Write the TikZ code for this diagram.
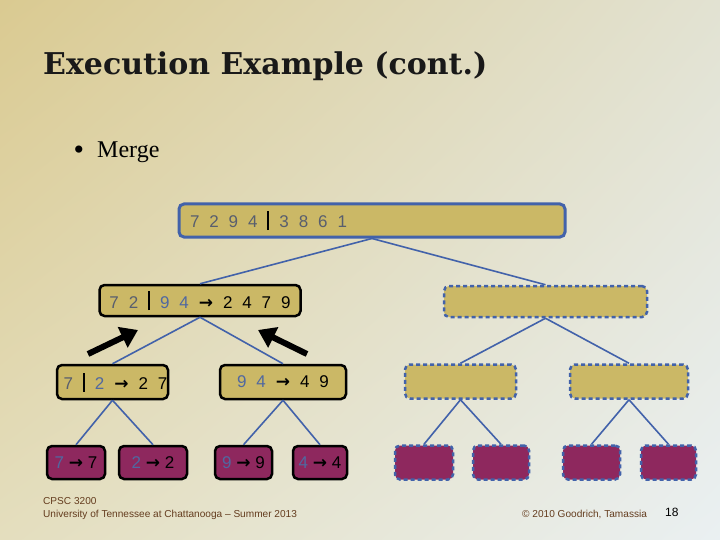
\documentclass[tikz,border=0pt]{standalone}
\usepackage{fontspec}
\setmainfont{Liberation Serif}
\setsansfont{Liberation Sans}
\newfontfamily\digits[WordSpace=2.1]{Liberation Sans}
\newfontfamily\arrfont{DejaVu Sans}
\newfontfamily\headfont{DejaVu Serif}
\usetikzlibrary{arrows.meta,shadings}

\definecolor{bgtl}{RGB}{218,202,145}
\definecolor{bgtr}{RGB}{226,226,210}
\definecolor{bgbl}{RGB}{228,222,190}
\definecolor{bgbr}{RGB}{234,240,242}
\definecolor{tanbox}{RGB}{203,184,102}
\definecolor{plum}{RGB}{142,40,94}
\definecolor{treeblue}{RGB}{66,98,170}
\definecolor{slate}{RGB}{88,94,110}
\definecolor{steel}{RGB}{80,104,160}
\definecolor{footbrown}{RGB}{100,60,30}

\newcommand{\vsep}{{\color{black}\rule[-2pt]{2pt}{19pt}}}
\newcommand{\arr}{{\arrfont\bfseries\color{black}→}}

\begin{document}
\begin{tikzpicture}[
  x=1pt, y=-1pt,
  box/.style={rounded corners=5pt, line width=2.5pt, inner xsep=0pt, inner ysep=0pt,
    font=\digits\fontsize{17}{20}\selectfont},
  done/.style={box, draw=black, fill=tanbox},
  todo/.style={box, draw=treeblue, dash pattern=on 4pt off 3pt, fill=tanbox},
  leafdone/.style={box, draw=black, fill=plum, font=\sffamily\fontsize{17}{20}\selectfont},
  leaftodo/.style={box, draw=treeblue, dash pattern=on 4pt off 3pt, fill=plum},
  link/.style={draw=treeblue, line width=1.6pt},
  bigarrow/.style={line width=6pt, -{Triangle[width=22pt,length=17pt]}},
  foot/.style={anchor=base west, inner sep=0pt, font=\sffamily\fontsize{10.1}{12}\selectfont, text=footbrown}
]
  \useasboundingbox (0,0) rectangle (720,540);
  \shade[upper left=bgtl, upper right=bgtr, lower left=bgbl, lower right=bgbr] (0,0) rectangle (720,540);

  % heading
  \node[anchor=base west, inner sep=0pt, font=\headfont\bfseries\fontsize{30}{34}\selectfont, text=black!90] (title) at (43,75) {Execution Example (cont.)};
  \node[anchor=base, inner sep=0pt, font=\fontsize{30}{30}\selectfont] (dot) at (79,160) {\textbullet};
  \node[anchor=base west, inner sep=0pt, font=\fontsize{24}{28}\selectfont] (merge) at (97,158) {Merge};

  % tree
  \node[box, draw=treeblue, line width=3pt, fill=tanbox, minimum width=386pt, minimum height=33pt] (r) at (372,220.5)
    {\makebox[364pt][l]{\color{slate}7 2 9 4 \vsep{} 3 8 6 1}};
  \node[done, minimum width=201pt, minimum height=31pt] (a) at (200,300.5)
    {{\color{slate}7 2} \vsep{} {\color{steel}9 4} \arr{} 2 4 7 9};
  \node[todo, minimum width=203pt, minimum height=31pt] (b) at (545.5,301.5) {};
  \node[done, minimum width=111pt, minimum height=34pt] (aa) at (112.5,382)
    {\hspace{6pt}{\color{slate}7} \vsep{} {\color{steel}2} \arr{} 2 7};
  \node[done, minimum width=126pt, minimum height=34pt] (ab) at (283,382)
    {{\color{steel}9 4} \arr{} 4 9};
  \node[todo, minimum width=111pt, minimum height=34pt] (ba) at (460.5,381.5) {};
  \node[todo, minimum width=118pt, minimum height=34pt] (bb) at (629,381.5) {};

  \node[leafdone, minimum width=58pt, minimum height=33pt] (aaa) at (76,462.5) {{\color{steel}7} \arr{} 7};
  \node[leafdone, minimum width=68pt, minimum height=33pt] (aab) at (153,462.5) {{\color{steel}2} \arr{} 2};
  \node[leafdone, minimum width=57pt, minimum height=33pt] (aba) at (243.5,462.5) {{\color{steel}9} \arr{} 9};
  \node[leafdone, minimum width=54pt, minimum height=33pt] (abb) at (320,462.5) {{\color{steel}4} \arr{} 4};
  \node[leaftodo, minimum width=58pt, minimum height=34pt] (baa) at (424,462.5) {};
  \node[leaftodo, minimum width=56pt, minimum height=34pt] (bab) at (501,462.5) {};
  \node[leaftodo, minimum width=57pt, minimum height=34pt] (bba) at (591.5,462.5) {};
  \node[leaftodo, minimum width=55pt, minimum height=34pt] (bbb) at (668.5,462.5) {};

  \foreach \p/\c in {r/a, r/b, a/aa, a/ab, b/ba, b/bb, aa/aaa, aa/aab, ab/aba, ab/abb, ba/baa, ba/bab, bb/bba, bb/bbb}
    \draw[link] (\p.south) -- (\c.north);

  % merge arrows
  \coordinate (lfrom) at (88,354);
  \coordinate (lto) at (138,330);
  \coordinate (rfrom) at (307,354);
  \coordinate (rto) at (258,330);
  \draw[bigarrow] (lfrom) -- (lto);
  \draw[bigarrow] (rfrom) -- (rto);

  % footer
  \node[foot] (course) at (43,504) {CPSC 3200};
  \node[foot] (school) at (43,517) {University of Tennessee at Chattanooga -- Summer 2013};
  \node[foot] (credit) at (522,517) {© 2010 Goodrich, Tamassia};
  \node[anchor=base west, inner sep=0pt, font=\sffamily\fontsize{12}{14}\selectfont] (page) at (665,516) {18};
\end{tikzpicture}
\end{document}
